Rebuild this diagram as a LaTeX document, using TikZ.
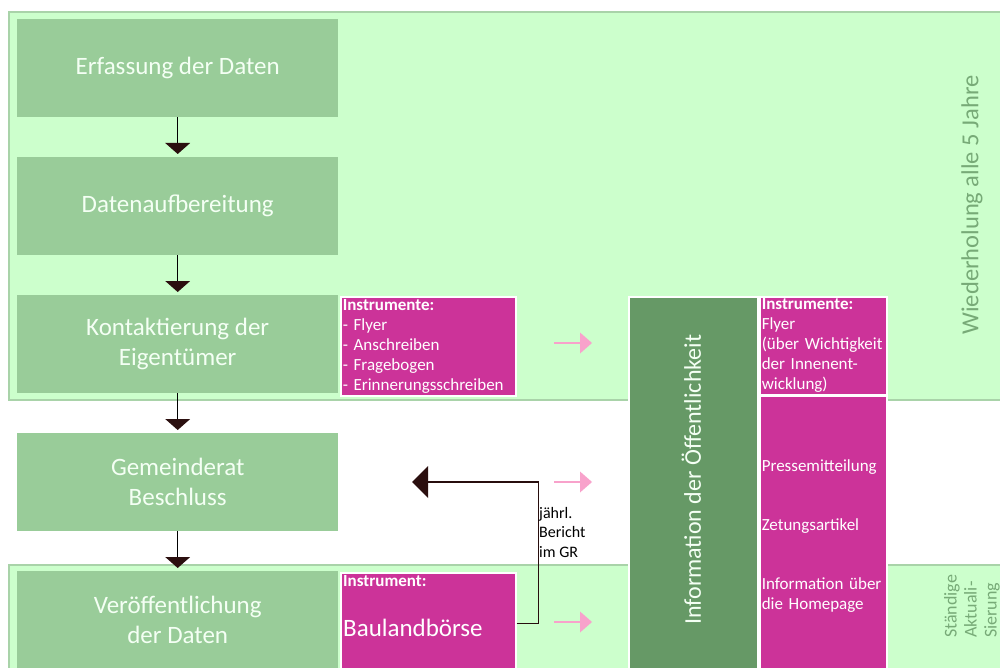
\documentclass[tikz,border=0pt]{standalone}
\usepackage{fontspec}
\setmainfont{Carlito}
\usetikzlibrary{arrows.meta}
\definecolor{bandfill}{HTML}{CCFFCC}
\definecolor{banddraw}{HTML}{A9D3A9}
\definecolor{boxgreen}{HTML}{99CC99}
\definecolor{darkgreen}{HTML}{669966}
\definecolor{magentabox}{HTML}{CC3399}
\definecolor{pinkarrow}{HTML}{F8A2CB}
\definecolor{sidetext}{HTML}{77AA77}
\definecolor{tipdark}{HTML}{2B0F0F}
\definecolor{boxtext}{HTML}{F4FFF4}
\tikzset{
  bandbox/.style={fill=bandfill, draw=banddraw, line width=1.5pt},
  stepbox/.style={fill=boxgreen, minimum width=321pt, minimum height=98pt, anchor=north west,
    inner sep=0pt, align=center, text=boxtext, font=\fontsize{25}{30}\selectfont},
  magbox/.style={fill=magentabox, draw=white, line width=1.5pt, anchor=north west, inner sep=2pt,
    align=left, text=white},
  smalltext/.style={font=\fontsize{17}{20}\selectfont},
  infobox/.style={fill=darkgreen, draw=white, line width=1.5pt, anchor=north west,
    minimum width=129pt, minimum height=380pt, inner sep=0pt},
  downarrow/.style={line width=1.1pt, draw=black, shorten >=3pt,
    -{Triangle[width=25pt,length=11pt,fill=tipdark,line width=0pt]}},
  backarrow/.style={line width=1.3pt, draw=tipdark!90!black,
    -{Triangle[width=32pt,length=16pt,fill=tipdark,line width=0pt]}},
  pinkarr/.style={line width=1.6pt, draw=pinkarrow,
    -{Triangle[width=21pt,length=12pt,fill=pinkarrow,line width=0pt]}},
  sidelabel/.style={text=sidetext, rotate=90, inner sep=0pt}
}
\begin{document}
\begin{tikzpicture}[x=1pt,y=-1pt]
\useasboundingbox (0,0) rectangle (1000,668);
\clip (0,0) rectangle (1000,668);
\fill[white] (0,0) rectangle (1000,668);

% bands
\draw[bandbox] (9,12) rectangle (1010,400);
\draw[bandbox] (9,565) rectangle (1010,690);

% step boxes
\node[stepbox] (s1) at (17,19) {Erfassung der Daten};
\node[stepbox] (s2) at (17,157) {Datenaufbereitung};
\node[stepbox] (s3) at (17,295) {Kontaktierung der\\Eigentümer};
\node[stepbox] (s4) at (17,433) {Gemeinderat\\Beschluss};
\node[stepbox] (s5) at (17,571) {Veröffentlichung\\der Daten};

\draw[downarrow] (s1.south) -- (s2.north);
\draw[downarrow] (s2.south) -- (s3.north);
\draw[downarrow] (s3.south) -- (s4.north);
\draw[downarrow] (s4.south) -- (s5.north);

% instrument boxes
\node[magbox, smalltext, minimum width=175pt, minimum height=99pt, text width=171pt] (ins1) at (340,296)
  {\textbf{Instrumente:}\\- Flyer\\- Anschreiben\\- Fragebogen\\- Erinnerungsschreiben};
\node[magbox, minimum width=175pt, minimum height=102pt, text width=171pt, anchor=north west, align=left] (baul) at (340,572) {};
\node[anchor=north west, inner sep=0pt, text=white, align=left, font=\fontsize{17}{20}\selectfont\bfseries] (baultitle) at ([shift={(3,3)}]baul.north west) {Instrument:};
\node[anchor=west, inner sep=0pt, text=white, font=\fontsize{25}{28}\selectfont] (baulname) at ([shift={(3,4)}]baul.west) {Baulandbörse};

% information box
\node[infobox] (info) at (628,296) {};
\node[rotate=90, text=boxtext, font=\fontsize{24}{28}\selectfont] (infotext) at ([shift={(-2,-7)}]info.center) {Information der Öffentlichkeit};

\node[magbox, smalltext, minimum width=127pt, minimum height=98pt, text width=123pt] (ins2) at (759,296)
  {\textbf{Instrumente:}\\Flyer\\(über Wichtigkeit\\der Innenent-\\wicklung)};
\node[magbox, smalltext, minimum width=127pt, minimum height=280pt, text width=123pt] (ins3) at (759,395)
  {Pressemitteilung\\[39pt]Zetungsartikel\\[39pt]Information über\\die Homepage};

% pink arrows
\coordinate (p1a) at (554,343); \coordinate (p1b) at (592,343);
\coordinate (p2a) at (554,482); \coordinate (p2b) at (592,482);
\coordinate (p3a) at (554,622); \coordinate (p3b) at (592,622);
\draw[pinkarr] (p1a) -- (p1b);
\draw[pinkarr] (p2a) -- (p2b);
\draw[pinkarr] (p3a) -- (p3b);

% report connector
\coordinate (rtip) at (412,482);
\draw[backarrow] (baul.east) -- ++(22,0) |- (rtip);
\node[anchor=north west, inner sep=0pt, align=left, font=\fontsize{16}{19.5}\selectfont] (report) at (539,507) {jährl.\\Bericht\\im GR};

% side labels
\node[sidelabel, font=\fontsize{24.5}{28}\selectfont] (rep5) at (972,205) {Wiederholung alle 5 Jahre};
\node[sidelabel, anchor=north west, align=left, font=\fontsize{18}{20}\selectfont] (aktual) at (944,638) {Ständige\\Aktuali-\\Sierung};
\end{tikzpicture}
\end{document}
